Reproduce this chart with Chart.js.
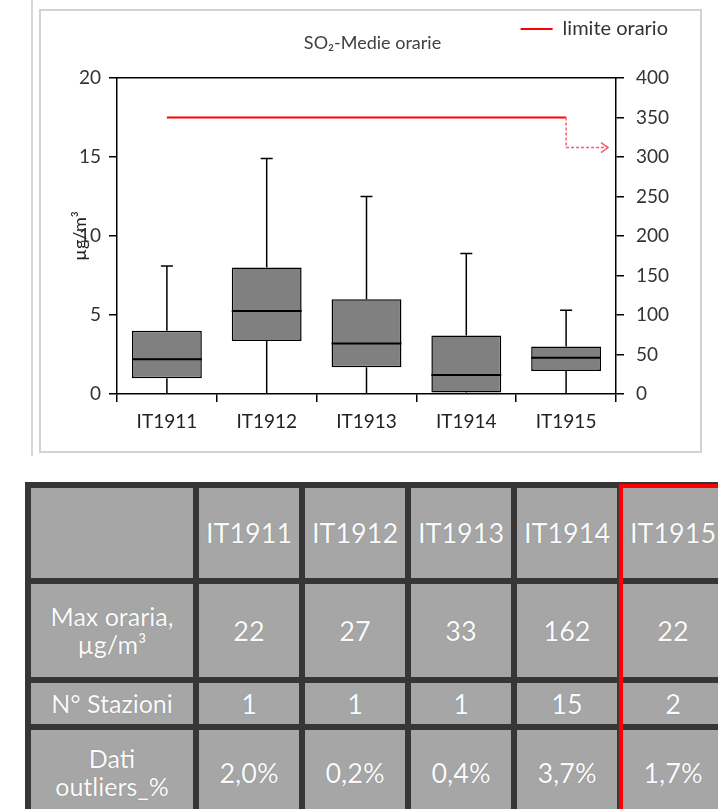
<!DOCTYPE html>
<html>
<head>
<meta charset="utf-8">
<script src="https://cdn.jsdelivr.net/npm/chart.js@4.4.1/dist/chart.umd.min.js"></script>
<style>
    body { margin: 0; background: #fff; width: 718px; height: 809px; overflow: hidden; position: relative; font-family: Lato, sans-serif; }
    #sideLine { position: absolute; left: 31px; top: 0; width: 2px; height: 456px; background: #d6d6d6; }
    #frame { position: absolute; left: 39px; top: 9px; width: 659px; height: 440px; border: 2px solid #d2d2d2; }
    #frame canvas { display: block; }
    #stats { position: absolute; left: 25px; top: 482px; width: 704px; table-layout: fixed; border-collapse: separate; border-spacing: 6px; background: #363636; }
    #stats td { background: #a6a6a6; color: #fafafa; text-align: center; font-size: 27px; line-height: 1.1; padding: 0; text-shadow: 0 0 1px #777; overflow: hidden; white-space: nowrap; }
    #stats td.head { font-size: 25px; }
    #redBox { position: absolute; left: 619px; top: 484px; width: 120px; height: 340px; border: 4px solid #f00; box-sizing: border-box; }
</style>
</head>
<body>
<div id="sideLine"></div>
<div id="frame"><canvas id="boxChart" width="659" height="440"></canvas></div>
<table id="stats"></table>
<div id="redBox"></div>
<script>
const stations = ["IT1911", "IT1912", "IT1913", "IT1914", "IT1915"];
const whiskerLow = [0, 0, 0, 0, 0];
const q1 = [1.0, 3.35, 1.7, 0.1, 1.45];
const median = [2.2, 5.25, 3.2, 1.2, 2.3];
const q3 = [4.0, 8.0, 6.0, 3.7, 3.0];
const whiskerHigh = [8.1, 14.9, 12.5, 8.9, 5.3];
const hourlyLimit = [350, 350, 350, 350, 350];
const limitArrowLevel = 312;

const rowLabels = ["Max oraria,<br>µg/m³", "N° Stazioni", "Dati<br>outliers_%"];
const maxHourly = ["22", "27", "33", "162", "22"];
const stationCount = ["1", "1", "1", "15", "2"];
const outlierPct = ["2,0%", "0,2%", "0,4%", "3,7%", "1,7%"];

function buildTable() {
    const table = document.getElementById("stats");
    const rows = [
        { label: "", cells: stations, h: 90 },
        { label: rowLabels[0], cells: maxHourly, h: 93 },
        { label: rowLabels[1], cells: stationCount, h: 41 },
        { label: rowLabels[2], cells: outlierPct, h: 85 }
    ];
    rows.forEach(r => {
        const tr = document.createElement("tr");
        let html = `<td class="head" style="width:162px;height:${r.h}px">${r.label}</td>`;
        r.cells.forEach(c => {
            html += `<td style="width:100px;height:${r.h}px">${c}</td>`;
        });
        tr.innerHTML = html;
        table.appendChild(tr);
    });
}

const boxWhiskers = {
    id: "boxWhiskers",
    afterDatasetsDraw(chart) {
        const ctx = chart.ctx;
        const y = chart.scales.y;
        const meta = chart.getDatasetMeta(0);
        ctx.save();
        ctx.strokeStyle = "#000";
        meta.data.forEach((bar, i) => {
            const x = bar.x;
            const half = bar.width / 2;
            const cap = 6;
            ctx.lineWidth = 1.5;
            ctx.beginPath();
            ctx.moveTo(x, y.getPixelForValue(q3[i]));
            ctx.lineTo(x, y.getPixelForValue(whiskerHigh[i]));
            ctx.moveTo(x - cap, y.getPixelForValue(whiskerHigh[i]));
            ctx.lineTo(x + cap, y.getPixelForValue(whiskerHigh[i]));
            ctx.moveTo(x, y.getPixelForValue(q1[i]));
            ctx.lineTo(x, y.getPixelForValue(whiskerLow[i]));
            ctx.stroke();
            ctx.lineWidth = 2;
            ctx.beginPath();
            ctx.moveTo(x - half, y.getPixelForValue(median[i]));
            ctx.lineTo(x + half, y.getPixelForValue(median[i]));
            ctx.stroke();
        });

        // dashed arrow after the limit line
        const lineMeta = chart.getDatasetMeta(1);
        const last = lineMeta.data[lineMeta.data.length - 1];
        const y2 = chart.scales.y2;
        const ay = y2.getPixelForValue(limitArrowLevel);
        const ax = chart.chartArea.right - 8;
        ctx.strokeStyle = "#ff5a6e";
        ctx.lineWidth = 1.5;
        ctx.setLineDash([3, 2]);
        ctx.beginPath();
        ctx.moveTo(last.x, last.y);
        ctx.lineTo(last.x, ay);
        ctx.lineTo(ax, ay);
        ctx.stroke();
        ctx.setLineDash([]);
        ctx.beginPath();
        ctx.moveTo(ax - 7, ay - 5);
        ctx.lineTo(ax, ay);
        ctx.lineTo(ax - 7, ay + 5);
        ctx.stroke();

        // chart title
        const area = chart.chartArea;
        ctx.fillStyle = "#404040";
        ctx.font = "18px Lato, sans-serif";
        ctx.textAlign = "center";
        ctx.textBaseline = "middle";
        ctx.fillText("SO₂-Medie orarie", (area.left + area.right) / 2 + 6, area.top - 35);
        ctx.restore();
    }
};

function renderChart() {
    new Chart(document.getElementById("boxChart"), {
        data: {
            labels: stations,
            datasets: [{
                type: "bar",
                label: "box",
                data: stations.map((_, i) => [q1[i], q3[i]]),
                backgroundColor: "#808080",
                borderColor: "#000",
                borderWidth: 1.5,
                borderSkipped: false,
                barPercentage: 0.7,
                categoryPercentage: 1,
                yAxisID: "y"
            }, {
                type: "line",
                label: "limite orario",
                data: hourlyLimit,
                borderColor: "#ff0000",
                backgroundColor: "#ff0000",
                borderWidth: 2,
                pointRadius: 0,
                yAxisID: "y2"
            }]
        },
        options: {
            responsive: false,
            animation: false,
            layout: { padding: { left: 0, right: 24, top: 0, bottom: 0 } },
            plugins: {
                tooltip: { enabled: false },
                legend: {
                    position: "top",
                    align: "end",
                    labels: {
                        filter: item => item.datasetIndex === 1,
                        usePointStyle: true,
                        pointStyle: "line",
                        pointStyleWidth: 32,
                        color: "#333",
                        font: { family: "Lato", size: 20 },
                        padding: 8
                    }
                }
            },
            scales: {
                x: {
                    offset: true,
                    grid: { offset: true, drawOnChartArea: false, color: "#000", tickLength: 8, lineWidth: 1.5 },
                    border: { color: "#000", width: 1.5 },
                    ticks: { color: "#222", font: { family: "Lato", size: 19 }, padding: 8 },
                    afterFit: s => { s.height = 57; }
                },
                x2: {
                    position: "top",
                    labels: stations,
                    offset: true,
                    grid: { drawOnChartArea: false, drawTicks: false },
                    border: { color: "#000", width: 1.5 },
                    ticks: { display: false },
                    afterFit: s => { s.height = 29; }
                },
                y: {
                    position: "left",
                    min: 0,
                    max: 20,
                    ticks: { stepSize: 5, color: "#333", font: { family: "Lato", size: 19 }, padding: 8 },
                    grid: { drawOnChartArea: false, color: "#000", tickLength: 8, lineWidth: 1.5 },
                    border: { color: "#000", width: 1.5 },
                    title: { display: true, text: "µg/m³", color: "#222", font: { family: "Lato", size: 18 }, padding: { top: 28, bottom: 0 } },
                    afterFit: s => { s.width = 76; }
                },
                y2: {
                    position: "right",
                    min: 0,
                    max: 400,
                    ticks: { stepSize: 50, color: "#333", font: { family: "Lato", size: 19 }, padding: 12 },
                    grid: { drawOnChartArea: false, color: "#000", tickLength: 8, lineWidth: 1.5 },
                    border: { color: "#000", width: 1.5 },
                    afterFit: s => { s.width = 60; }
                }
            }
        },
        plugins: [boxWhiskers]
    });
}

buildTable();
renderChart();
</script>
</body>
</html>
